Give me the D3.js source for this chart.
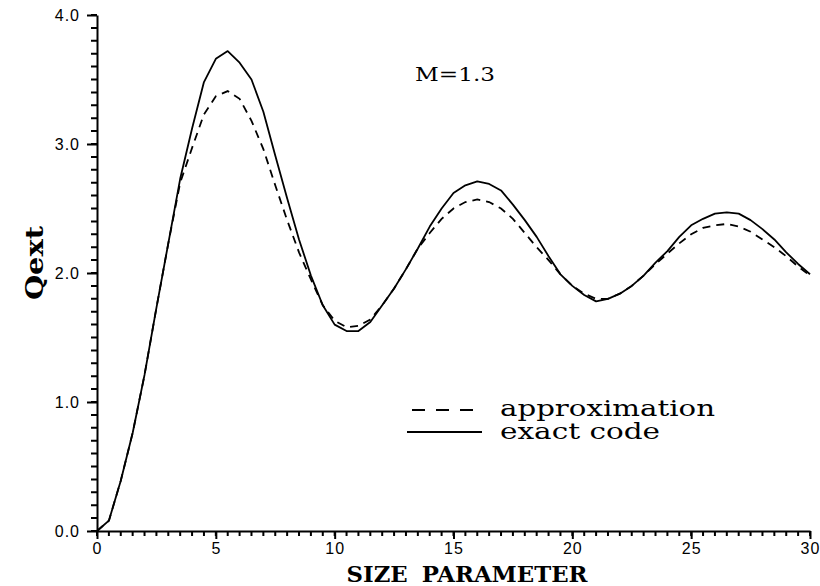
<!DOCTYPE html>
<html>
<head>
<meta charset="utf-8">
<script src="https://cdn.jsdelivr.net/npm/d3@7"></script>
<style>
  html, body { margin: 0; padding: 0; background: #fff; }
  svg { display: block; }
</style>
</head>
<body>
<script>
const sizeParam = [
  0, 0.5, 1, 1.5, 2, 2.5, 3, 3.5, 4, 4.5, 5, 5.5, 6, 6.5, 7, 7.5, 8, 8.5, 9, 9.5,
  10, 10.5, 11, 11.5, 12, 12.5, 13, 13.5, 14, 14.5, 15, 15.5, 16, 16.5, 17, 17.5,
  18, 18.5, 19, 19.5, 20, 20.5, 21, 21.5, 22, 22.5, 23, 23.5, 24, 24.5, 25, 25.5,
  26, 26.5, 27, 27.5, 28, 28.5, 29, 29.5, 30
];
const exactCode = [
  0, 0.08, 0.39, 0.76, 1.21, 1.73, 2.23, 2.73, 3.12, 3.48, 3.66, 3.72, 3.63, 3.5, 3.25, 2.91,
  2.58, 2.26, 1.98, 1.75, 1.6, 1.55, 1.55, 1.62, 1.75, 1.88, 2.03, 2.19, 2.36, 2.5,
  2.62, 2.68, 2.71, 2.69, 2.64, 2.53, 2.41, 2.28, 2.13, 1.99, 1.9, 1.83, 1.78, 1.8,
  1.84, 1.9, 1.98, 2.08, 2.17, 2.28, 2.37, 2.42, 2.46, 2.47, 2.46, 2.41, 2.34, 2.26,
  2.16, 2.07, 1.99
];
const approximation = [
  0, 0.08, 0.39, 0.76, 1.21, 1.73, 2.23, 2.7, 2.97, 3.23, 3.37, 3.41, 3.35, 3.18, 2.96, 2.68,
  2.41, 2.16, 1.95, 1.75, 1.63, 1.58, 1.59, 1.64, 1.75, 1.88, 2.03, 2.19, 2.31, 2.42,
  2.5, 2.55, 2.57, 2.55, 2.5, 2.42, 2.31, 2.2, 2.1, 1.99, 1.9, 1.84, 1.8, 1.8,
  1.84, 1.9, 1.98, 2.07, 2.15, 2.23, 2.3, 2.35, 2.37, 2.38, 2.36, 2.32, 2.26, 2.2,
  2.13, 2.05, 1.98
];
const xTicks = [0, 5, 10, 15, 20, 25, 30];
const yTicks = [0, 1, 2, 3, 4];
const xMinor = d3.range(0, 61).map(i => i / 2);
const yMinor = d3.range(0, 41).map(i => i / 10);

const width = 820;
const height = 586;
const plotLeft = 97, plotRight = 810, plotTop = 15, plotBottom = 531;

const svg = d3.select('body')
  .append('svg')
  .attr('width', width)
  .attr('height', height);

const x = d3.scaleLinear().domain([0, 30]).range([plotLeft, plotRight]);
const y = d3.scaleLinear().domain([0, 4]).range([plotBottom, plotTop]);

const tickFont = '"Liberation Sans", Arial, sans-serif';
const serif = '"DejaVu Serif", serif';

// minor ticks as one path per axis
const yMinorPath = d3.path();
yMinor.forEach(v => {
  yMinorPath.moveTo(plotLeft - 6, y(v));
  yMinorPath.lineTo(plotLeft, y(v));
});
svg.append('path')
  .attr('class', 'minor-y')
  .attr('d', yMinorPath.toString())
  .attr('fill', 'none')
  .attr('stroke', '#000')
  .attr('stroke-width', 2);

const xMinorPath = d3.path();
xMinor.forEach(v => {
  xMinorPath.moveTo(x(v), plotBottom);
  xMinorPath.lineTo(x(v), plotBottom + 5);
});
svg.append('path')
  .attr('class', 'minor-x')
  .attr('d', xMinorPath.toString())
  .attr('fill', 'none')
  .attr('stroke', '#000')
  .attr('stroke-width', 2);

// major axes with labels
const yAxis = svg.append('g')
  .attr('transform', `translate(${plotLeft},0)`)
  .call(d3.axisLeft(y).tickValues(yTicks).tickSize(10).tickSizeOuter(0).tickPadding(7).tickFormat(d3.format('.1f')));

const xAxis = svg.append('g')
  .attr('transform', `translate(0,${plotBottom})`)
  .call(d3.axisBottom(x).tickValues(xTicks).tickSize(8).tickSizeOuter(0).tickPadding(4).tickFormat(d3.format('d')));

[yAxis, xAxis].forEach(g => {
  g.selectAll('.tick line').attr('stroke', '#000').attr('stroke-width', 2);
  g.select('.domain').attr('stroke', '#000').attr('stroke-width', 2);
  g.selectAll('.tick text')
    .attr('fill', '#000')
    .style('font-family', tickFont)
    .style('font-size', '16px')
    .style('letter-spacing', '1px');
});

// curves
const line = (vals) => d3.line()
  .x((d, i) => x(sizeParam[i]))
  .y(d => y(d))(vals);

svg.append('path')
  .attr('d', line(exactCode))
  .attr('fill', 'none')
  .attr('stroke', '#000')
  .attr('stroke-width', 1.8)
  .attr('stroke-linejoin', 'round');

svg.append('path')
  .attr('d', line(approximation))
  .attr('fill', 'none')
  .attr('stroke', '#000')
  .attr('stroke-width', 1.8)
  .attr('stroke-dasharray', '8,6');

// axis titles
svg.append('text')
  .text('SIZE PARAMETER')
  .attr('x', 467)
  .attr('y', 582)
  .attr('text-anchor', 'middle')
  .attr('textLength', 241)
  .attr('lengthAdjust', 'spacingAndGlyphs')
  .style('font-family', serif)
  .style('font-weight', 'bold')
  .style('font-size', '22px')
  .style('word-spacing', '6px');

svg.append('text')
  .text('Qext')
  .attr('transform', 'translate(43,263) rotate(-90)')
  .attr('text-anchor', 'middle')
  .attr('textLength', 74)
  .attr('lengthAdjust', 'spacingAndGlyphs')
  .style('font-family', serif)
  .style('font-weight', 'bold')
  .style('font-size', '24px');

svg.append('text')
  .text('M=1.3')
  .attr('x', 415)
  .attr('y', 81)
  .attr('textLength', 80)
  .attr('lengthAdjust', 'spacingAndGlyphs')
  .style('font-family', serif)
  .style('font-size', '18px');

// legend
const legend = svg.append('g');
legend.append('line')
  .attr('x1', 412).attr('x2', 482).attr('y1', 410).attr('y2', 410)
  .attr('stroke', '#000').attr('stroke-width', 1.8)
  .attr('stroke-dasharray', '13,11');
legend.append('line')
  .attr('x1', 407).attr('x2', 482).attr('y1', 432).attr('y2', 432)
  .attr('stroke', '#000').attr('stroke-width', 1.8);
legend.append('text')
  .text('approximation')
  .attr('x', 500).attr('y', 416)
  .attr('textLength', 215)
  .attr('lengthAdjust', 'spacingAndGlyphs')
  .style('font-family', serif)
  .style('font-size', '22px');
legend.append('text')
  .text('exact code')
  .attr('x', 500).attr('y', 439)
  .attr('textLength', 160)
  .attr('lengthAdjust', 'spacingAndGlyphs')
  .style('font-family', serif)
  .style('font-size', '22px');
</script>
</body>
</html>
